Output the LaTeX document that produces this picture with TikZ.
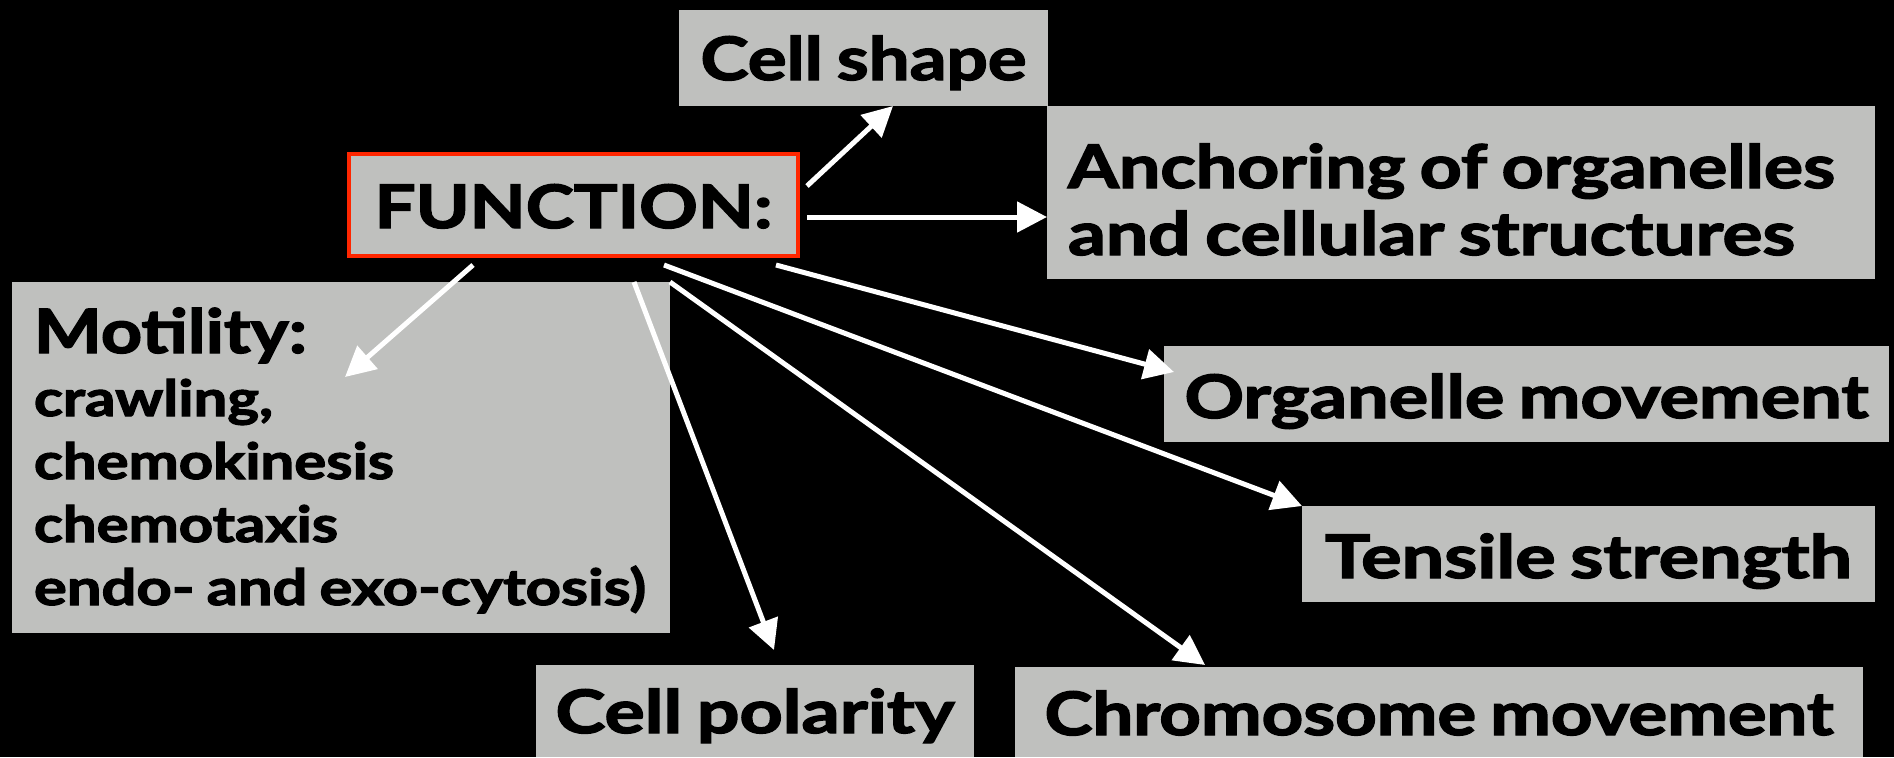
\documentclass[tikz,border=0pt]{standalone}
\usepackage{fontspec}
\setmainfont{Lato}[WordSpace=0.8,BoldFeatures={FakeBold=2.2}]
\usepackage{graphicx}
\usetikzlibrary{arrows.meta,calc}
\definecolor{boxgray}{RGB}{191,192,190}
\definecolor{funcred}{RGB}{255,38,0}
\newcommand\fw[2]{\resizebox{#1}{\height}{\spaceskip=0pt\xspaceskip=0pt\relax #2}}
\begin{document}
\begin{tikzpicture}[x=0.5pt,y=-0.5pt,
  box/.style={fill=boxgray, draw=none, inner sep=0pt, outer sep=0pt, anchor=north west,
    font=\bfseries\fontsize{30pt}{33.5pt}\selectfont, text=black},
  arr/.style={draw=white, line width=2.5pt, -{Triangle[length=15pt,width=15pt]}},
]
\fill[black] (0,0) rectangle (1894,757);
\useasboundingbox (0,0) rectangle (1894,757);

\node[box, minimum width=184.5pt, text height=35pt, text depth=13pt] (cellshape) at (679,10) {\fw{163pt}{Cell shape}};
\node[box, draw=funcred, line width=2.25pt, minimum width=224.5pt, text height=37pt, text depth=14pt] (func) at (349,154) {\fw{199pt}{FUNCTION:}};
\node[box, text width=393pt, inner xsep=10.5pt, align=left] (anch) at (1047,106)
  {\rule{0pt}{41pt}\fw{383.5pt}{Anchoring of organelles}\\\fw{363.5pt}{and cellular structures}\rule[-12pt]{0pt}{12pt}};
\node[box, minimum width=362.5pt, text height=36pt, text depth=12pt] (org) at (1164,346) {\fw{342pt}{Organelle movement}};
\node[box, minimum width=286.5pt, text height=36pt, text depth=12pt] (tens) at (1302,506) {\fw{263.5pt}{Tensile strength}};
\node[box, text width=307pt, inner xsep=11pt, align=left, font=\bfseries\fontsize{30.5pt}{31.5pt}\selectfont] (mot) at (12,282)
  {\rule{0pt}{35.5pt}\fw{136.5pt}{Motility:}\\\fontsize{25pt}{31.5pt}\selectfont\fw{119.5pt}{crawling,}\\\fw{180pt}{chemokinesis}\\\fw{152pt}{chemotaxis}\\\fw{306pt}{endo- and exo-cytosis)}\rule[-14pt]{0pt}{14pt}};
\node[box, minimum width=219pt, text height=34pt, text depth=12pt] (pol) at (536,665) {\fw{199.5pt}{Cell polarity}};
\node[box, minimum width=424pt, text height=34pt, text depth=11pt] (chrom) at (1015,667) {\fw{394.5pt}{Chromosome movement}};

\draw[arr] ($(func.north east)+(9,32)$) -- ($(cellshape.south west)+(214,0)$);
\coordinate (s2) at ($(func.east)+(9,12)$);
\draw[arr] (s2) -- (s2 -| anch.west);
\draw[arr] ($(func.south)+(-100.5,9)$) -- ($(mot.north west)+(333,95)$);
\draw[arr] ($(func.south)+(60.5,26)$) -- ($(pol.north west)+(238,-15)$);
\draw[arr] ($(func.south)+(96.5,26)$) -- ($(chrom.north west)+(190,-2)$);
\draw[arr] ($(func.south)+(90.5,9)$) -- (tens.north west);
\draw[arr] ($(func.south east)+(-22,9)$) -- ($(org.north west)+(10,26)$);
\end{tikzpicture}
\end{document}
